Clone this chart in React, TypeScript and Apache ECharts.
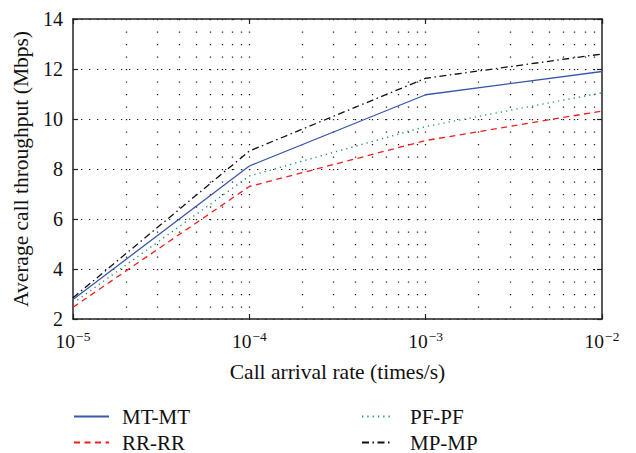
import React, { useEffect, useRef } from "react";
import * as echarts from "echarts";

const xValues = [1e-5, 1e-4, 1e-3, 1e-2];
const mtmt = [2.78, 8.12, 10.97, 11.9];
const rrrr = [2.47, 7.3, 9.14, 10.32];
const pfpf = [2.63, 7.72, 9.7, 11.05];
const mpmp = [2.85, 8.72, 11.63, 12.6];
const gridX = [
  2e-5, 3e-5, 4e-5, 5e-5, 6e-5, 7e-5, 8e-5, 9e-5, 1e-4,
  2e-4, 3e-4, 4e-4, 5e-4, 6e-4, 7e-4, 8e-4, 9e-4, 1e-3,
  2e-3, 3e-3, 4e-3, 5e-3, 6e-3, 7e-3, 8e-3, 9e-3,
];
const yMin = 2;
const yMax = 14;

const FONT = "'Liberation Serif', 'Times New Roman', 'DejaVu Serif', serif";

export default function App() {
  const ref = useRef<HTMLDivElement>(null);
  useEffect(() => {
    const chart = echarts.init(ref.current!, null, { renderer: "svg" });
    const pairs = (ys: number[]) => xValues.map((x, i) => [x, ys[i]]);
    const labelFmt = (v: number) => {
      const e = Math.round(Math.log10(v));
      return `{b|10}{s|\u2212${Math.abs(e)}}`;
    };
    const rich = {
      b: { fontFamily: FONT, fontSize: 19.5, color: "#111", verticalAlign: "bottom", lineHeight: 22 },
      s: { fontFamily: FONT, fontSize: 13.5, color: "#111", verticalAlign: "top", lineHeight: 22, padding: [0, 0, 6, 1] },
    };
    const frame = { show: true, onZero: false, lineStyle: { color: "#222", width: 1.5 } };
    const tick = { show: true, inside: true, length: 5, lineStyle: { color: "#222", width: 1.2 } };
    const legendCommon = {
      orient: "vertical",
      padding: 0,
      height: 80,
      itemHeight: 10,
      itemGap: 5,
      itemStyle: { opacity: 0 },
    };
    chart.setOption({
      animation: false,
      grid: { left: 73, right: 34, top: 19, bottom: 134 },
      xAxis: [
        {
          type: "log",
          logBase: 10,
          min: 1e-5,
          max: 1e-2,
          position: "bottom",
          axisLine: frame,
          axisTick: tick,
          splitLine: { show: false },
          axisLabel: { formatter: labelFmt, rich, margin: 10 },
          name: "Call arrival rate (times/s)",
          nameLocation: "middle",
          nameGap: 42,
          nameTextStyle: { fontFamily: FONT, fontSize: 21.5, color: "#111" },
        },
        {
          type: "log",
          logBase: 10,
          min: 1e-5,
          max: 1e-2,
          position: "top",
          axisLine: frame,
          axisTick: tick,
          splitLine: { show: false },
          axisLabel: { show: false },
        },
      ],
      yAxis: [
        {
          type: "value",
          min: yMin,
          max: yMax,
          interval: 2,
          position: "left",
          axisLine: frame,
          axisTick: tick,
          splitLine: { show: true, lineStyle: { color: "#222", width: 1.2, type: [1.3, 6.7] } },
          axisLabel: { fontFamily: FONT, fontSize: 20, color: "#111", margin: 10 },
          name: "Average call throughput (Mbps)",
          nameLocation: "middle",
          nameGap: 40,
          nameTextStyle: { fontFamily: FONT, fontSize: 21.5, color: "#111" },
        },
        {
          type: "value",
          min: yMin,
          max: yMax,
          interval: 2,
          position: "right",
          axisLine: frame,
          axisTick: tick,
          splitLine: { show: false },
          axisLabel: { show: false },
        },
      ],
      legend: [
        {
          ...legendCommon,
          left: 73,
          top: 406,
          itemWidth: 35,
          data: ["MT-MT", "RR-RR"],
          textStyle: { fontFamily: FONT, fontSize: 21, lineHeight: 18, color: "#111", padding: [0, 0, 0, 8] },
        },
        {
          ...legendCommon,
          left: 361,
          top: 406,
          itemWidth: 30,
          data: ["PF-PF", "MP-MP"],
          textStyle: { fontFamily: FONT, fontSize: 21, lineHeight: 18, color: "#111", padding: [0, 0, 0, 13] },
        },
      ],
      series: [
        {
          name: "grid",
          type: "lines",
          coordinateSystem: "cartesian2d",
          silent: true,
          polyline: false,
          lineStyle: { color: "#222", width: 1.3, type: [1.3, 11.2], opacity: 1 },
          data: gridX.map((x) => ({ coords: [[x, yMax], [x, yMin]] })),
          z: 1,
        },
        {
          name: "MT-MT",
          type: "line",
          data: pairs(mtmt),
          symbol: "none",
          lineStyle: { color: "#3a57ad", width: 1.3, type: "solid" },
          itemStyle: { color: "#3a57ad" },
          z: 3,
        },
        {
          name: "RR-RR",
          type: "line",
          data: pairs(rrrr),
          symbol: "none",
          lineStyle: { color: "#f21d1d", width: 1.3, type: [6, 4.5] },
          itemStyle: { color: "#f21d1d" },
          z: 3,
        },
        {
          name: "PF-PF",
          type: "line",
          data: pairs(pfpf),
          symbol: "none",
          lineStyle: { color: "#2e9462", width: 1.4, type: [1.3, 4] },
          itemStyle: { color: "#2e9462" },
          z: 3,
        },
        {
          name: "MP-MP",
          type: "line",
          data: pairs(mpmp),
          symbol: "none",
          lineStyle: { color: "#111", width: 1.3, type: [7, 3.5, 1.5, 3.5] },
          itemStyle: { color: "#111" },
          z: 3,
        },
      ],
    });
    return () => chart.dispose();
  }, []);
  return <div ref={ref} style={{ width: 636, height: 453, position: "absolute", left: 0, top: 0 }} />;
}
